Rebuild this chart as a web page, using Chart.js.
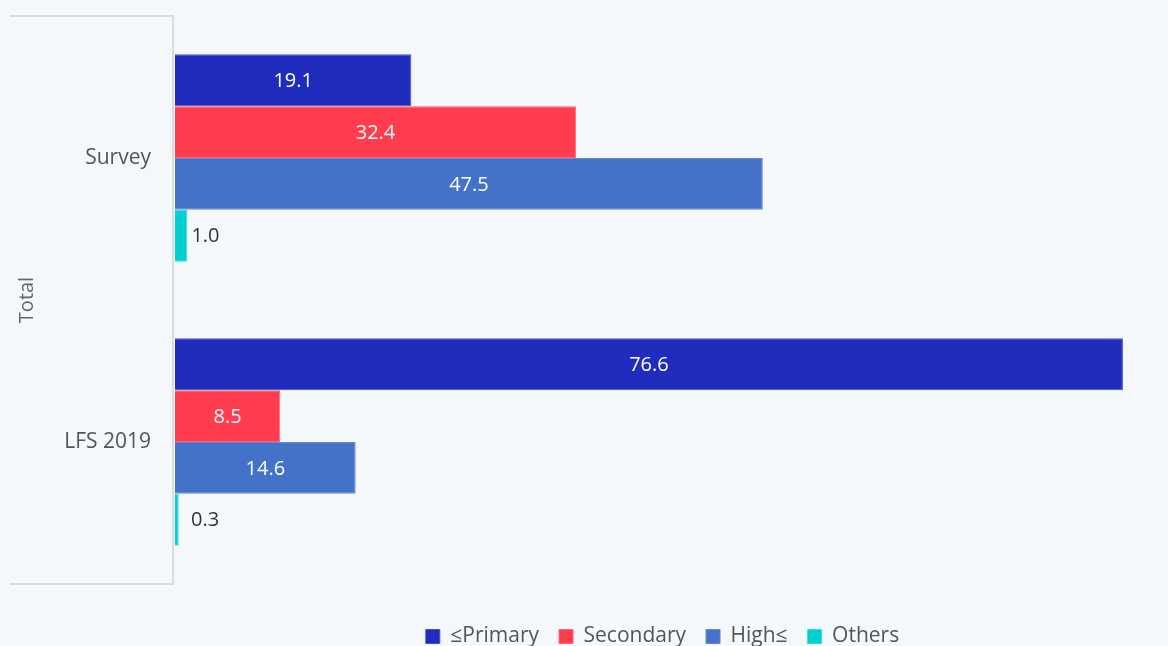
<!DOCTYPE html>
<html>
<head>
<meta charset="utf-8">
<script src="https://cdn.jsdelivr.net/npm/chart.js@4.4.1/dist/chart.umd.min.js"></script>
<style>
  html, body { margin: 0; padding: 0; background: #f5f8fa; }
  #wrap { width: 1168px; height: 646px; }
</style>
</head>
<body>
<div id="wrap"><canvas id="eduChart"></canvas></div>
<script>
// education level shares, survey sample vs LFS 2019
const categories = ['Survey', 'LFS 2019'];
const seriesNames = ['≤Primary', 'Secondary', 'High≤', 'Others'];
const primaryValues = [19.1, 76.6];
const secondaryValues = [32.4, 8.5];
const highValues = [47.5, 14.6];
const otherValues = [1.0, 0.3];
const groupLabel = 'Total';

const seriesColors = ['#1f2cbe', '#ff3d4e', '#4472c8', '#00d0d0'];
const edgeColors = ['#4650c8', '#ff6270', '#6489d0', '#38d8d8'];
const FONT = '"Open Sans", "Noto Sans", sans-serif';

// bracket around the category axis (top, side, bottom)
const groupBracket = {
  id: 'groupBracket',
  afterDraw(chart) {
    const { ctx, chartArea } = chart;
    ctx.save();
    ctx.strokeStyle = '#dadcde';
    ctx.lineWidth = 2;
    ctx.beginPath();
    ctx.moveTo(10, chartArea.top);
    ctx.lineTo(chartArea.left - 2, chartArea.top);
    ctx.lineTo(chartArea.left - 2, chartArea.bottom);
    ctx.lineTo(10, chartArea.bottom);
    ctx.stroke();
    ctx.restore();
  }
};

// center the legend under the plot area instead of the whole canvas
const legendUnderPlot = {
  id: 'legendUnderPlot',
  afterLayout(chart) {
    const lg = chart.legend;
    if (lg) {
      lg.left = chart.chartArea.left - 15;
      lg.adjustHitBoxes();
    }
  }
};

// value labels: inside the bar when it fits, otherwise just past the end
const valueLabels = {
  id: 'valueLabels',
  afterDatasetsDraw(chart) {
    const { ctx } = chart;
    ctx.save();
    ctx.font = '20px ' + FONT;
    ctx.textBaseline = 'middle';
    chart.data.datasets.forEach((ds, i) => {
      const meta = chart.getDatasetMeta(i);
      meta.data.forEach((bar, j) => {
        const text = ds.data[j].toFixed(1);
        const w = ctx.measureText(text).width;
        const len = bar.x - bar.base;
        if (len > w + 16) {
          ctx.fillStyle = '#ffffff';
          ctx.textAlign = 'center';
          ctx.fillText(text, bar.base + len / 2, bar.y + 1);
        } else {
          ctx.fillStyle = '#333333';
          ctx.textAlign = 'left';
          ctx.fillText(text, Math.max(bar.x, bar.base + 12) + 4, bar.y + 1);
        }
      });
    });
    ctx.restore();
  }
};

const valueSets = [primaryValues, secondaryValues, highValues, otherValues];

new Chart(document.getElementById('eduChart'), {
  type: 'bar',
  data: {
    labels: categories,
    datasets: seriesNames.map((name, i) => ({
      label: name,
      data: valueSets[i],
      backgroundColor: seriesColors[i],
      borderColor: edgeColors[i],
      borderWidth: 1,
      categoryPercentage: 0.73,
      barPercentage: 1
    }))
  },
  options: {
    indexAxis: 'y',
    responsive: true,
    maintainAspectRatio: false,
    animation: false,
    layout: { padding: { top: 16, right: 3, left: 0, bottom: 0 } },
    scales: {
      x: {
        min: 0,
        max: 80,
        grid: { display: false },
        border: { display: false },
        ticks: { display: false },
        afterFit(scale) { scale.height = 22; }
      },
      y: {
        grid: { display: false },
        border: { display: false },
        ticks: {
          color: '#555555',
          padding: 16,
          font: { family: FONT, size: 21 }
        },
        title: {
          display: true,
          text: groupLabel,
          color: '#666666',
          padding: 15,
          font: { family: FONT, size: 20 }
        },
        afterFit(scale) {
          scale.width = 175;
          scale.paddingTop = 0;
          scale.paddingBottom = 0;
        }
      }
    },
    plugins: {
      legend: {
        position: 'bottom',
        maxHeight: 40,
        labels: {
          boxWidth: 14,
          boxHeight: 14,
          padding: 20,
          color: '#555555',
          font: { family: FONT, size: 21 }
        }
      },
      tooltip: { enabled: false }
    }
  },
  plugins: [groupBracket, legendUnderPlot, valueLabels]
});
</script>
</body>
</html>
